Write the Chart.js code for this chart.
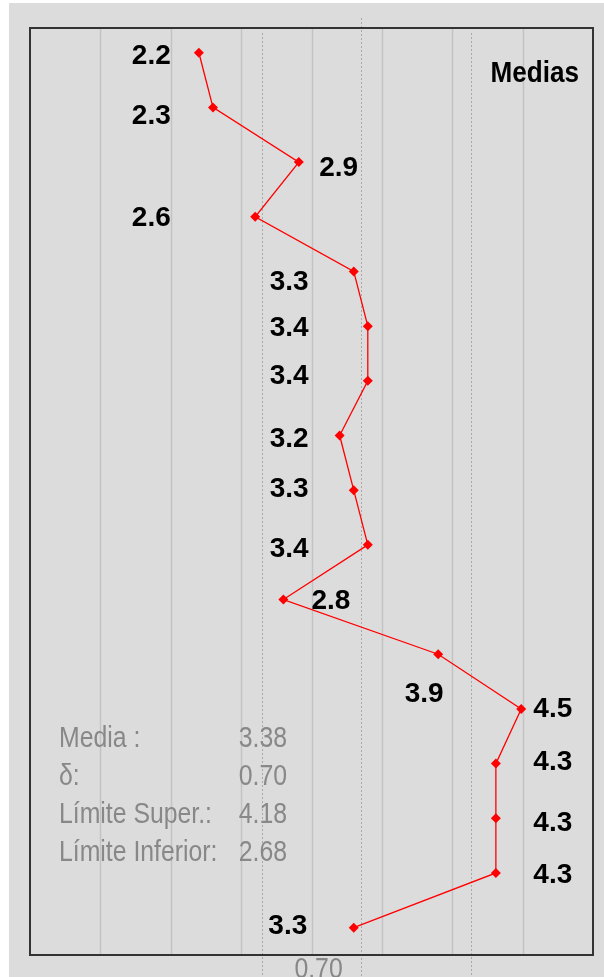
<!DOCTYPE html>
<html lang="es">
<head>
    <meta charset="UTF-8">
    <title>Medias</title>
    <script src="https://cdn.jsdelivr.net/npm/chart.js"></script>
    <style>
        html, body { margin: 0; padding: 0; background: #fff; }
        .chart-box { position: relative; width: 604px; height: 977px; }
    </style>
</head>
<body>
    <div class="chart-box">
        <canvas id="medias-chart" width="604" height="977"></canvas>
    </div>
    <script>
        // one point per item, top to bottom
        const items = [1, 2, 3, 4, 5, 6, 7, 8, 9, 10, 11, 12, 13, 14, 15, 16, 17];
        const medias = [2.2, 2.3, 2.91, 2.6, 3.3, 3.4, 3.4, 3.2, 3.3, 3.4, 2.8, 3.9, 4.49, 4.31, 4.31, 4.31, 3.3];
        const mediaLabels = ['2.2', '2.3', '2.9', '2.6', '3.3', '3.4', '3.4', '3.2', '3.3', '3.4', '2.8', '3.9', '4.5', '4.3', '4.3', '4.3', '3.3'];

        // where each value label is anchored, in data units, and how it hangs off that anchor
        const labelX = [2.0, 2.0, 3.055, 2.0, 2.98, 2.98, 2.98, 2.98, 2.98, 2.98, 3.0, 3.8, 4.576, 4.576, 4.576, 4.576, 2.97];
        const labelY = [1.07, 2.17, 3.11, 4.03, 5.19, 6.04, 6.92, 8.07, 8.99, 10.08, 11.03, 12.73, 13.0, 13.98, 15.1, 16.04, 16.98];
        const labelAlign = ['right', 'right', 'left', 'right', 'right', 'right', 'right', 'right', 'right', 'right',
                            'left', 'center', 'left', 'left', 'left', 'left', 'right'];

        const gridValues = [1.5, 2, 2.5, 3, 3.5, 4, 4.5];
        const limitLines = [2.65, 3.355, 4.13];   // inferior, media, superior
        const statNames = ['Media :', 'δ:', 'Límite Super.:', 'Límite Inferior:'];
        const statValues = ['3.38', '0.70', '4.18', '2.68'];
        const deltaText = '0.70';
        const deltaAt = 3.05;

        const BG = '#dcdcdc';

        function drawNarrow(ctx, text, x, y, font, color, align, squeeze) {
            ctx.save();
            ctx.font = font;
            ctx.fillStyle = color;
            ctx.textAlign = align;
            ctx.textBaseline = 'middle';
            ctx.translate(x, y);
            ctx.scale(squeeze, 1);
            ctx.fillText(text, 0, 0);
            ctx.restore();
        }

        const backdrop = {
            id: 'backdrop',
            beforeDraw(chart) {
                const { ctx, chartArea: a, scales: { x } } = chart;
                ctx.save();
                ctx.fillStyle = BG;
                ctx.fillRect(9, 3, chart.width - 9, chart.height - 3);

                // solid grid
                ctx.strokeStyle = '#c3c3c3';
                ctx.lineWidth = 1.5;
                gridValues.forEach(v => {
                    const px = Math.round(x.getPixelForValue(v)) + 0.5;
                    ctx.beginPath();
                    ctx.moveTo(px, a.top);
                    ctx.lineTo(px, a.bottom);
                    ctx.stroke();
                });

                // dotted limit lines
                ctx.strokeStyle = '#a9a9a9';
                ctx.lineWidth = 1;
                ctx.setLineDash([2, 2]);
                limitLines.forEach((v, i) => {
                    const px = Math.round(x.getPixelForValue(v)) + 0.5;
                    const top = i === 1 ? a.top - 10 : a.top + 5;
                    ctx.beginPath();
                    ctx.moveTo(px, top);
                    ctx.lineTo(px, chart.height);
                    ctx.stroke();
                });
                ctx.setLineDash([]);

                // frame
                ctx.strokeStyle = '#333';
                ctx.lineWidth = 2;
                ctx.strokeRect(a.left, a.top, a.right - a.left, a.bottom - a.top);
                ctx.restore();
            },
            afterDatasetsDraw(chart) {
                const { ctx, chartArea: a, scales: { x, y } } = chart;

                mediaLabels.forEach((t, i) => {
                    drawNarrow(ctx, t, x.getPixelForValue(labelX[i]), y.getPixelForValue(labelY[i]),
                        'bold 28px "Liberation Sans", Arial, sans-serif', '#000', labelAlign[i], 1);
                });

                drawNarrow(ctx, 'Medias', a.right - 14, a.top + 46,
                    'bold 29px "Liberation Sans", Arial, sans-serif', '#000', 'right', 0.9);

                const statFont = '29px "Liberation Sans", Arial, sans-serif';
                statNames.forEach((t, i) => {
                    const py = a.top + 711 + i * 38;
                    drawNarrow(ctx, t, a.left + 29, py, statFont, '#888', 'left', 0.855);
                    drawNarrow(ctx, statValues[i], a.left + 257, py, statFont, '#888', 'right', 0.855);
                });

                drawNarrow(ctx, deltaText, x.getPixelForValue(deltaAt), a.bottom + 15, statFont, '#888', 'center', 0.855);
            }
        };

        new Chart(document.getElementById('medias-chart'), {
            type: 'scatter',
            data: {
                datasets: [{
                    data: items.map((n, i) => ({ x: medias[i], y: n })),
                    showLine: true,
                    borderColor: '#ff0000',
                    borderWidth: 1.3,
                    pointStyle: 'rectRot',
                    pointRadius: 5,
                    pointBackgroundColor: '#ff0000',
                    pointBorderColor: '#ff0000',
                    pointBorderWidth: 0
                }]
            },
            options: {
                responsive: false,
                animation: false,
                layout: { padding: { left: 30, top: 28, right: 11, bottom: 22 } },
                plugins: { legend: { display: false }, tooltip: { enabled: false } },
                scales: {
                    x: { type: 'linear', display: false, min: 1, max: 5 },
                    y: { type: 'linear', display: false, reverse: true, min: 0.548, max: 17.5 }
                }
            },
            plugins: [backdrop]
        });
    </script>
</body>
</html>
